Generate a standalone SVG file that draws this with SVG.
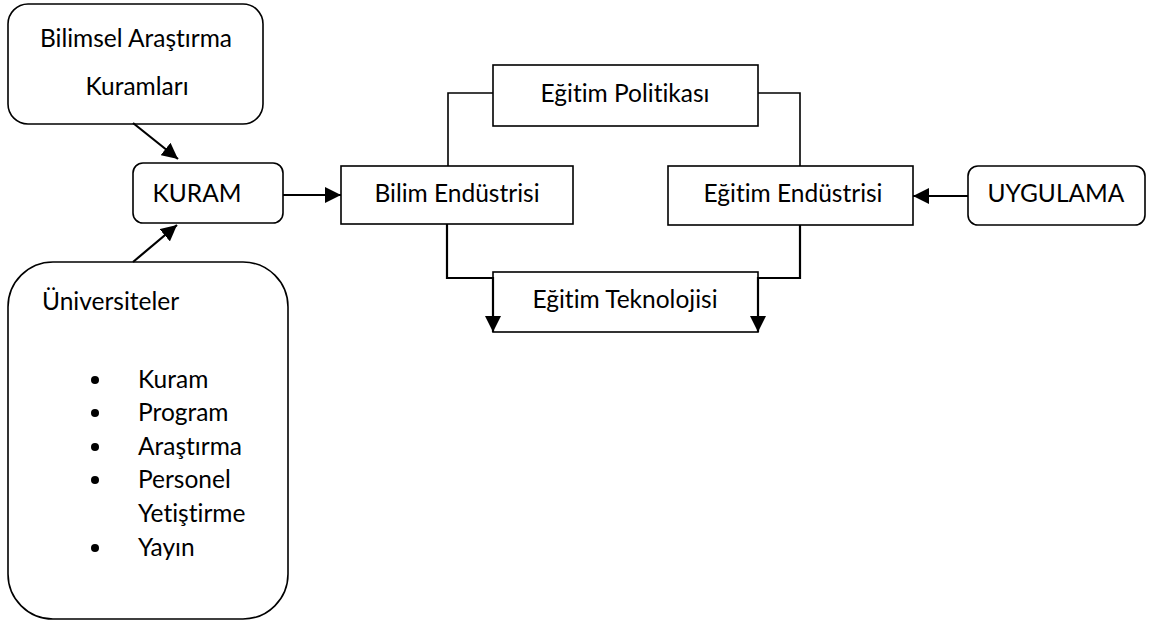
<svg xmlns="http://www.w3.org/2000/svg" width="1152" height="624" viewBox="0 0 1152 624">
<style>
.box{fill:#fff;stroke:#000;stroke-width:1.6}
.t{font-family:Lato,"Open Sans","Liberation Sans",sans-serif;font-size:24.5px;fill:#000;font-variant-ligatures:none;font-feature-settings:"liga" 0}
.m{text-anchor:middle}
.c{fill:none;stroke:#000;stroke-width:1.6}
.c2{fill:none;stroke:#000;stroke-width:2.2}
</style>
<defs>
<marker id="ah" viewBox="0 0 16 16" refX="16" refY="8" markerWidth="16" markerHeight="16" markerUnits="userSpaceOnUse" orient="auto">
<path d="M0,0 L16,8 L0,16 Z" fill="#000"/>
</marker>
</defs>
<rect width="1152" height="624" fill="#fff"/>
<g id="bilimsel">
<rect class="box" x="8" y="4" width="255" height="120" rx="20"/>
<text class="t m" x="136" y="47">Bilimsel Araştırma</text>
<text class="t m" x="137" y="95">Kuramları</text>
</g>
<g id="kuram">
<rect class="box" x="133" y="163" width="150" height="60" rx="10"/>
<text class="t m" x="197" y="202">KURAM</text>
</g>
<g id="universiteler">
<rect class="box" x="8" y="262" width="280" height="357" rx="45"/>
<text class="t" x="42" y="310">Üniversiteler</text>
<circle cx="95" cy="380" r="4"/>
<text class="t" x="138" y="388">Kuram</text>
<circle cx="95" cy="413" r="4"/>
<text class="t" x="138" y="421">Program</text>
<circle cx="95" cy="447" r="4"/>
<text class="t" x="138" y="455">Araştırma</text>
<circle cx="95" cy="480" r="4"/>
<text class="t" x="138" y="488">Personel</text>
<text class="t" x="138" y="522">Yetiştirme</text>
<circle cx="95" cy="548" r="4"/>
<text class="t" x="138" y="556">Yayın</text>
</g>
<g id="bilim-endustrisi">
<rect class="box" x="341" y="166" width="232" height="58"/>
<text class="t m" x="457" y="202">Bilim Endüstrisi</text>
</g>
<g id="egitim-politikasi">
<rect class="box" x="493" y="65" width="265" height="61"/>
<text class="t m" x="625" y="102">Eğitim Politikası</text>
</g>
<g id="egitim-endustrisi">
<rect class="box" x="668" y="166" width="245" height="59"/>
<text class="t m" x="793" y="202">Eğitim Endüstrisi</text>
</g>
<g id="uygulama">
<rect class="box" x="968" y="166" width="177" height="59" rx="10"/>
<text class="t m" x="1056" y="202">UYGULAMA</text>
</g>
<g id="egitim-teknolojisi">
<rect class="box" x="493" y="272" width="265" height="60"/>
<text class="t m" x="625" y="308">Eğitim Teknolojisi</text>
</g>
<g id="connectors">
<line class="c2" x1="133" y1="123" x2="178" y2="159" marker-end="url(#ah)"/>
<line class="c2" x1="133" y1="262" x2="177" y2="225" marker-end="url(#ah)"/>
<line class="c2" x1="283" y1="195" x2="341" y2="195" marker-end="url(#ah)"/>
<line class="c2" x1="968" y1="196" x2="913" y2="196" marker-end="url(#ah)"/>
<polyline class="c" points="448,166 448,93 493,93"/>
<polyline class="c" points="758,93 800,93 800,166"/>
<polyline class="c2" points="447,224 447,278 493,278 493,332" marker-end="url(#ah)"/>
<polyline class="c2" points="800,225 800,278 758,278 758,332" marker-end="url(#ah)"/>
</g>
</svg>
